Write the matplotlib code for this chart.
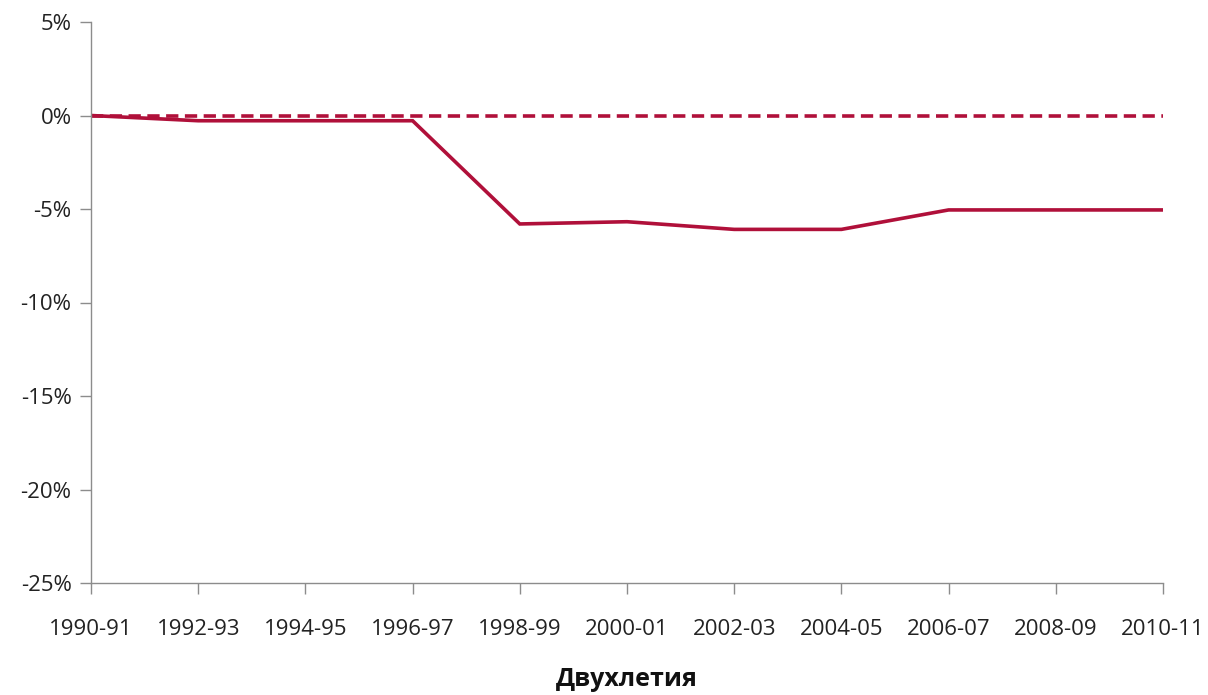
import matplotlib.pyplot as plt
from matplotlib.ticker import FuncFormatter

# Данные
periods = ["1990-91", "1992-93", "1994-95", "1996-97", "1998-99", "2000-01",
           "2002-03", "2004-05", "2006-07", "2008-09", "2010-11"]
change = [0.0, -0.28, -0.28, -0.28, -5.80, -5.68, -6.09, -6.09, -5.05, -5.05, -5.05]
baseline = [0.0] * len(periods)

color = "#B0103A"
grey = "#8C8C8C"

plt.rcParams['font.family'] = ['Open Sans', 'DejaVu Sans']

fig = plt.figure(figsize=(12.08, 6.95), dpi=100)
ax = fig.add_axes([91 / 1208, 1 - 583 / 695, (1163 - 91) / 1208, (583 - 22) / 695])

x = range(len(periods))
ax.plot(x, baseline, color=color, lw=2.6, ls=(0, (3.4, 1.8)))
ax.plot(x, change, color=color, lw=2.6, solid_joinstyle='miter')

ax.set_xlim(0, len(periods) - 1)
ax.set_ylim(-25, 5)
ax.set_yticks(range(-25, 6, 5))
ax.yaxis.set_major_formatter(FuncFormatter(lambda v, p: f"{v:.0f}%"))
ax.set_xticks(list(x))
ax.set_xticklabels(periods)

for s in ["top", "right"]:
    ax.spines[s].set_visible(False)
for s in ["left", "bottom"]:
    ax.spines[s].set_color(grey)
    ax.spines[s].set_linewidth(1)

ax.tick_params(axis='both', colors=grey, length=8, width=1, labelcolor="#222222", labelsize=16)
ax.tick_params(axis='x', pad=18)
ax.tick_params(axis='y', pad=6)

ax.set_xlabel("Двухлетия", fontsize=18, fontweight='bold', labelpad=19, color="#111111")

fig.savefig("out.png", dpi=100)
